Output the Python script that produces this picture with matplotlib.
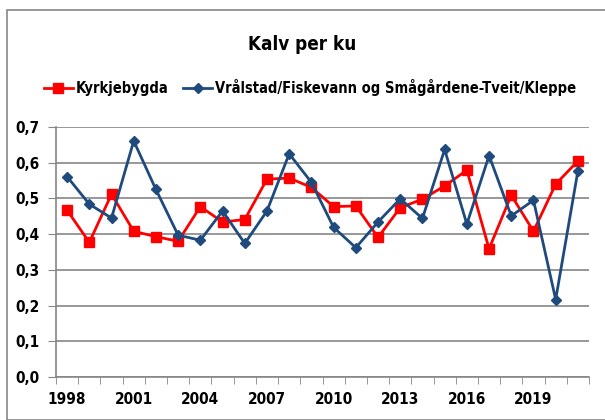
import numpy as np
import matplotlib
matplotlib.use("Agg")
from matplotlib import pyplot as plt
from matplotlib.patches import Rectangle

years = list(range(1998, 2022))
kyrkjebygda = [0.467, 0.377, 0.512, 0.408, 0.393, 0.380, 0.477, 0.434, 0.441, 0.554, 0.557, 0.531,
               0.477, 0.479, 0.391, 0.474, 0.498, 0.535, 0.579, 0.359, 0.509, 0.408, 0.540, 0.605]
vralstad = [0.561, 0.484, 0.445, 0.661, 0.525, 0.397, 0.383, 0.465, 0.374, 0.465, 0.625, 0.545,
            0.419, 0.362, 0.434, 0.499, 0.444, 0.637, 0.428, 0.620, 0.451, 0.495, 0.217, 0.577]
yticks = [0, 0.1, 0.2, 0.3, 0.4, 0.5, 0.6, 0.7]

plt.rcParams['font.family'] = ['DejaVu Sans']
plt.rcParams['font.stretch'] = 'condensed'
plt.rcParams['font.weight'] = 'bold'

fig = plt.figure(figsize=(6.05, 4.2), dpi=100)
fig.patches.append(Rectangle((7/605, 0), 1, 1 - 10/420, transform=fig.transFigure,
                             fill=False, edgecolor='#868686', linewidth=1.2))
ax = fig.add_axes([56/605, 43/420, 533/605, 250/420])

x = np.arange(len(years))
ax.plot(x, kyrkjebygda, color='#ff0000', lw=2, marker='s', ms=7.5, label='Kyrkjebygda', zorder=3)
ax.plot(x, vralstad, color='#1f4a7e', lw=2, marker='D', ms=5.5,
        label='Vrålstad/Fiskevann og Smågårdene-Tveit/Kleppe', zorder=4)

ax.set_xlim(-0.5, len(years) - 0.5)
ax.set_ylim(0, 0.7)
ax.set_yticks(yticks)
ax.set_yticklabels([f"{v:.1f}".replace('.', ',') for v in yticks], fontsize=11, fontweight='bold')
ax.set_xticks(x[::3])
ax.set_xticklabels([str(y) for y in years[::3]], fontsize=11, fontweight='bold')
ax.set_xticks(np.arange(-0.5, len(years)), minor=True)
ax.tick_params(axis='x', which='major', length=0, pad=11)
ax.tick_params(axis='x', which='minor', length=5, color='#868686', direction='out')
ax.tick_params(axis='y', length=6, color='#868686', direction='out', pad=6)
ax.grid(axis='y', color='#868686', lw=1.2)
ax.set_axisbelow(True)
for s in ['top', 'right']:
    ax.spines[s].set_visible(False)
for s in ['left', 'bottom']:
    ax.spines[s].set_color('#868686')
    ax.spines[s].set_linewidth(1.2)

fig.text(0.5, 1 - 45/420, 'Kalv per ku', ha='center', va='center', fontsize=13.5, fontweight='bold')
fig.legend(loc='center', bbox_to_anchor=(310/605, 1 - 88/420), ncol=2, frameon=False,
           prop={'size': 10.5, 'weight': 'bold', 'stretch': 'condensed'},
           handlelength=2.0, handletextpad=0.2, columnspacing=1.0, borderaxespad=0)

fig.savefig('out.png', dpi=100)
